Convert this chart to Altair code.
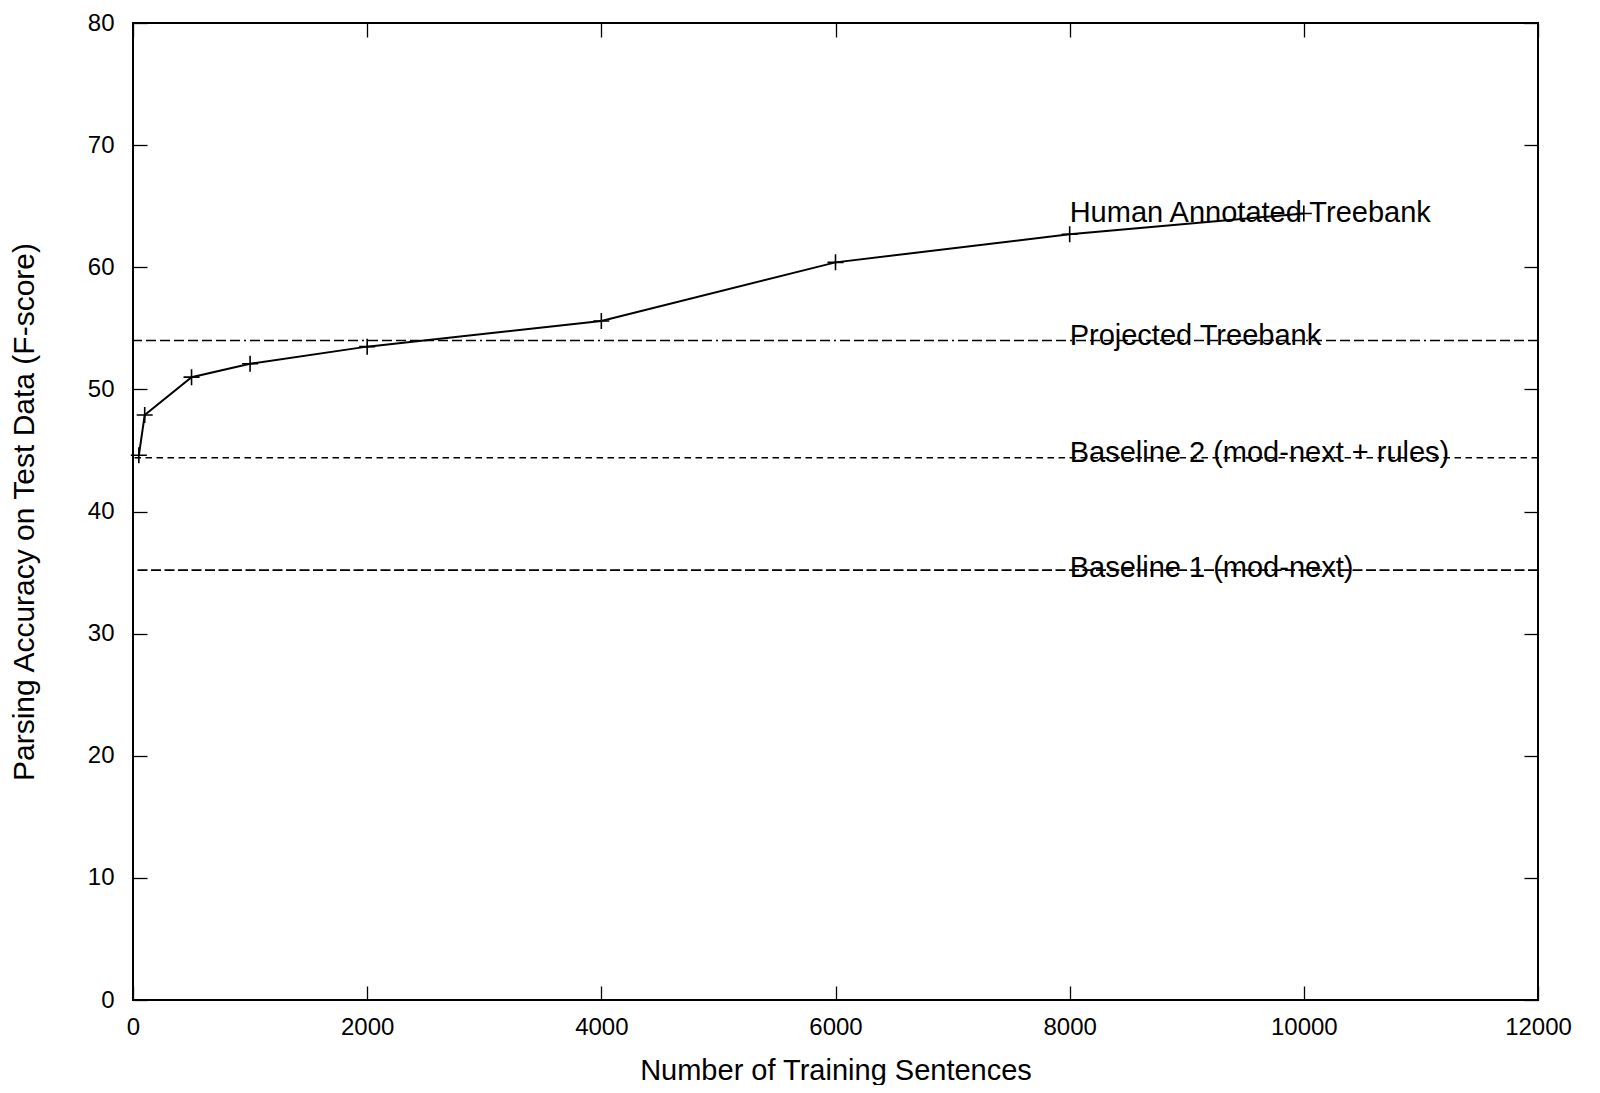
import altair as alt
import pandas as pd

# ---- data ----
sentences = [50, 100, 500, 1000, 2000, 4000, 6000, 8000, 10000]
fscore = [44.6, 47.9, 51.0, 52.1, 53.5, 55.6, 60.4, 62.7, 64.4]

ref_names = ["Projected Treebank", "Baseline 2 (mod-next + rules)", "Baseline 1 (mod-next)"]
ref_values = [54.0, 44.4, 35.2]

label_texts = ["Human Annotated Treebank", "Projected Treebank",
               "Baseline 2 (mod-next + rules)", "Baseline 1 (mod-next)"]
label_x = [8000, 8000, 8000, 8000]
label_y = [64.05, 54.0, 44.4, 35.0]

x_ticks = [0, 2000, 4000, 6000, 8000, 10000, 12000]
y_ticks = [0, 10, 20, 30, 40, 50, 60, 70, 80]

FONT = "Liberation Sans"
W, H = 1405, 977
TICK = 14

curve = pd.DataFrame({"n": sentences, "f": fscore})
labels = pd.DataFrame({"t": label_texts, "x": label_x, "y": label_y})

xs = alt.Scale(domain=[0, 12000], nice=False, zero=False)
ys = alt.Scale(domain=[0, 80], nice=False, zero=False)

x_bottom = alt.Axis(orient="bottom", values=x_ticks, format="d", offset=-TICK, tickSize=TICK,
                    tickColor="black", tickWidth=1.3, domain=False, grid=False,
                    labelFont=FONT, labelFontSize=24, labelColor="black",
                    labelPadding=15, labelFlush=False,
                    title="Number of Training Sentences", titleFont=FONT,
                    titleFontSize=29, titleFontWeight="normal", titleColor="black",
                    titlePadding=17)
y_left = alt.Axis(orient="left", values=y_ticks, format="d", offset=-TICK, tickSize=TICK,
                  tickColor="black", tickWidth=1.3, domain=False, grid=False,
                  labelFont=FONT, labelFontSize=24, labelColor="black",
                  labelPadding=19, labelFlush=False,
                  title="Parsing Accuracy on Test Data (F-score)", titleFont=FONT,
                  titleFontSize=30, titleFontWeight="normal", titleColor="black",
                  titlePadding=48)
x_top = alt.Axis(orient="top", values=x_ticks, offset=-TICK, tickSize=TICK,
                 tickColor="black", tickWidth=1.3, domain=False, grid=False,
                 labels=False, title=None)
y_right = alt.Axis(orient="right", values=y_ticks, offset=-TICK, tickSize=TICK,
                   tickColor="black", tickWidth=1.3, domain=False, grid=False,
                   labels=False, title=None)

line = alt.Chart(curve).mark_line(color="black", strokeWidth=2).encode(
    x=alt.X("n:Q", scale=xs, axis=x_bottom),
    y=alt.Y("f:Q", scale=ys, axis=y_left),
)

points = alt.Chart(curve).mark_point(
    shape="M-1,0L1,0M0,-1L0,1", size=256, filled=False,
    stroke="black", strokeWidth=1.6, opacity=1,
).encode(
    x=alt.X("n:Q", scale=xs, axis=x_top),
    y=alt.Y("f:Q", scale=ys, axis=y_right),
)

dashes = [[10, 4, 10, 4, 10, 4, 10, 4, 10, 4, 10, 4, 10, 4, 10, 4, 2, 4],
          [6.5, 4.5],
          [10, 3.5]]
rules = []
for name, val, dash in zip(ref_names, ref_values, dashes):
    df = pd.DataFrame({"name": [name], "v": [val]})
    rules.append(
        alt.Chart(df).mark_rule(color="black", strokeWidth=1.6, strokeDash=dash).encode(
            y=alt.Y("v:Q", scale=ys, axis=None)
        )
    )

texts = alt.Chart(labels).mark_text(
    align="left", baseline="middle", font=FONT, fontSize=29, color="black", dy=-5
).encode(
    x=alt.X("x:Q", scale=xs, axis=None),
    y=alt.Y("y:Q", scale=ys, axis=None),
    text="t:N",
)

chart = alt.layer(*rules, line, points, texts).resolve_axis(
    x="independent", y="independent"
).properties(
    width=W, height=H,
    autosize=alt.AutoSizeParams(type="none"),
    padding={"left": 125, "top": 15, "right": 50, "bottom": 85},
    background="white",
).configure_view(stroke="black", strokeWidth=2)

chart.save("out.html", embed_options={"renderer": "svg", "actions": False})
